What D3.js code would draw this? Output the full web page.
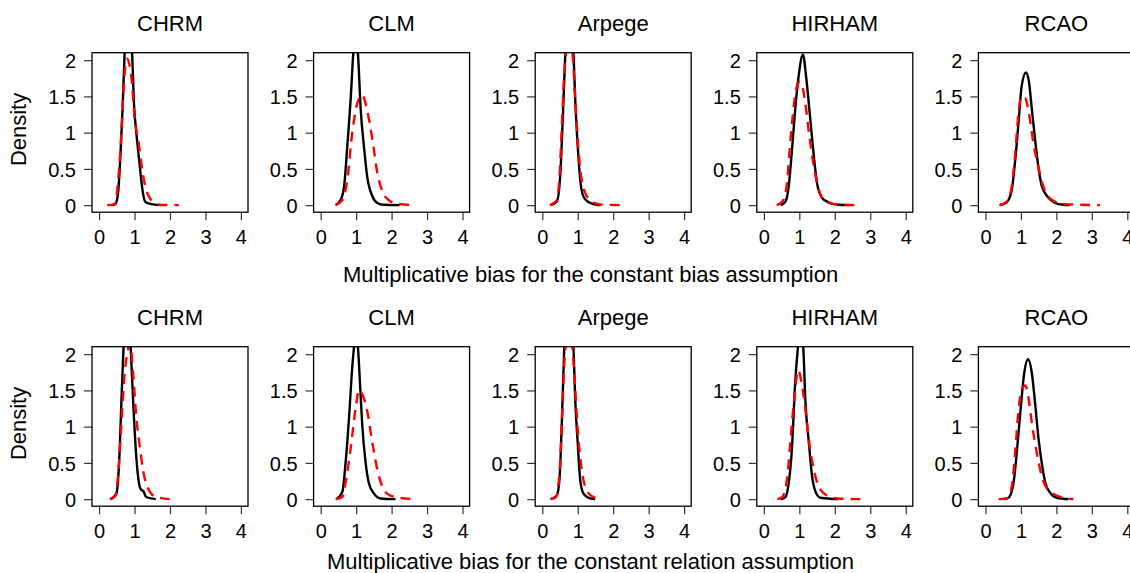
<!DOCTYPE html>
<html><head><meta charset="utf-8">
<script src="https://cdn.jsdelivr.net/npm/d3@7"></script>
<style>
body{margin:0;background:#fff}
svg{display:block}
text{font-family:"Liberation Sans",Arial,Helvetica,sans-serif;fill:#000}
</style>
</head><body>
<svg id="c" width="1130" height="573"></svg>
<script>
// ---------- data ----------
const models = ["CHRM", "CLM", "Arpege", "HIRHAM", "RCAO"];
const xTicks = [0, 1, 2, 3, 4];
const yTicks = [0, 0.5, 1, 1.5, 2];
const yTickLabels = ["0", "0.5", "1", "1.5", "2"];
const rowTitles = ["Multiplicative bias for the constant bias assumption",
                   "Multiplicative bias for the constant relation assumption"];
const yTitle = "Density";

// constant bias assumption – solid black curves, one per model
const biasSolid = [
  [[0.35,0],[0.45,0.01],[0.5,0.06],[0.54,0.19],[0.6,0.67],[0.66,1.31],[0.72,2.1],[0.77,2.5],[0.82,2.6],[0.87,2.5],[0.93,2.1],[0.99,1.35],[1.05,1.0],[1.15,0.53],[1.21,0.26],[1.3,0.05],[1.4,0.025],[1.52,0.01],[1.74,0]],
  [[0.42,0],[0.56,0.07],[0.66,0.26],[0.75,0.81],[0.85,1.5],[0.92,2.1],[0.98,2.4],[1.05,2.1],[1.13,1.31],[1.22,0.81],[1.31,0.4],[1.46,0.12],[1.6,0.03],[1.78,0.005],[2.23,0]],
  [[0.23,0],[0.41,0.05],[0.51,0.44],[0.58,1.22],[0.65,2.1],[0.71,2.6],[0.77,2.75],[0.83,2.6],[0.88,2.1],[0.93,1.45],[1.0,0.81],[1.07,0.35],[1.16,0.12],[1.31,0.04],[1.54,0.005],[1.65,0]],
  [[0.47,0],[0.61,0.05],[0.7,0.26],[0.8,0.81],[0.89,1.36],[0.99,1.82],[1.1,2.08],[1.2,1.73],[1.31,1.18],[1.41,0.67],[1.5,0.3],[1.64,0.1],[1.78,0.05],[1.97,0.015],[2.35,0]],
  [[0.41,0],[0.6,0.04],[0.74,0.21],[0.84,0.63],[0.93,1.13],[1.02,1.64],[1.14,1.83],[1.22,1.72],[1.31,1.31],[1.4,0.9],[1.49,0.53],[1.59,0.26],[1.73,0.13],[1.87,0.06],[2.06,0.015],[2.38,0]]
];
// constant bias assumption – dashed red curves
const biasDashed = [
  [[0.23,0],[0.44,0.01],[0.54,0.35],[0.63,1.0],[0.69,1.6],[0.75,1.95],[0.8,2.02],[0.85,1.95],[0.91,1.77],[1.0,1.22],[1.13,0.81],[1.19,0.58],[1.3,0.26],[1.43,0.1],[1.62,0.02],[1.76,0.003],[2.25,0]],
  [[0.42,0],[0.61,0.07],[0.75,0.35],[0.89,1.0],[1.03,1.4],[1.17,1.52],[1.31,1.31],[1.46,0.9],[1.6,0.44],[1.74,0.19],[1.92,0.07],[2.16,0.02],[2.68,0]],
  [[0.21,0],[0.41,0.07],[0.48,0.35],[0.55,1.08],[0.62,1.82],[0.68,2.15],[0.76,2.3],[0.84,2.15],[0.93,1.45],[1.0,0.9],[1.07,0.49],[1.21,0.17],[1.4,0.05],[1.63,0.01],[2.24,0]],
  [[0.36,0],[0.52,0.05],[0.64,0.26],[0.75,0.9],[0.85,1.4],[0.96,1.68],[1.01,1.7],[1.06,1.68],[1.17,1.4],[1.27,1.0],[1.41,0.53],[1.55,0.21],[1.69,0.07],[1.97,0.015],[2.63,0]],
  [[0.39,0],[0.6,0.05],[0.74,0.26],[0.84,0.72],[0.93,1.27],[1.02,1.5],[1.12,1.48],[1.21,1.31],[1.35,0.86],[1.49,0.53],[1.63,0.26],[1.77,0.12],[1.96,0.05],[2.2,0.015],[3.23,0]]
];
// constant relation assumption – solid black curves
const relationSolid = [
  [[0.33,0],[0.49,0.08],[0.54,0.3],[0.58,0.67],[0.63,1.36],[0.69,2.1],[0.74,2.6],[0.79,2.75],[0.84,2.6],[0.89,2.1],[0.96,1.36],[1.03,0.72],[1.1,0.31],[1.16,0.15],[1.26,0.1],[1.33,0.03],[1.6,0]],
  [[0.45,0],[0.61,0.1],[0.7,0.49],[0.8,1.13],[0.89,1.82],[0.94,2.1],[0.995,2.35],[1.05,2.1],[1.11,1.59],[1.17,1.04],[1.27,0.49],[1.36,0.22],[1.5,0.08],[1.69,0.01],[2.11,0]],
  [[0.23,0],[0.41,0.05],[0.49,0.31],[0.55,1.04],[0.62,2.1],[0.69,2.7],[0.75,2.85],[0.81,2.7],[0.88,2.1],[0.93,1.36],[1.0,0.77],[1.07,0.26],[1.16,0.08],[1.35,0.01],[1.49,0]],
  [[0.47,0],[0.61,0.03],[0.7,0.22],[0.8,0.77],[0.87,1.5],[0.96,2.1],[1.03,2.4],[1.11,2.1],[1.17,1.36],[1.27,0.77],[1.36,0.31],[1.46,0.1],[1.6,0.02],[2.11,0]],
  [[0.51,0],[0.65,0.02],[0.79,0.22],[0.88,0.63],[0.98,1.18],[1.09,1.73],[1.2,1.93],[1.31,1.73],[1.4,1.32],[1.49,0.86],[1.59,0.49],[1.68,0.24],[1.82,0.09],[2.01,0.02],[2.34,0]]
];
// constant relation assumption – dashed red curves
const relationDashed = [
  [[0.3,0],[0.47,0.05],[0.56,0.49],[0.63,1.04],[0.72,1.73],[0.82,2.07],[0.86,2.15],[0.9,2.07],[0.96,1.73],[1.05,1.13],[1.15,0.72],[1.24,0.4],[1.38,0.15],[1.57,0.04],[1.99,0]],
  [[0.42,0],[0.61,0.03],[0.7,0.22],[0.85,0.72],[0.99,1.27],[1.08,1.5],[1.17,1.45],[1.31,1.22],[1.46,0.77],[1.6,0.4],[1.74,0.17],[1.92,0.06],[2.21,0.02],[2.68,0]],
  [[0.24,0],[0.39,0.03],[0.49,0.4],[0.55,1.04],[0.62,1.86],[0.68,2.2],[0.76,2.35],[0.85,2.1],[0.93,1.5],[1.0,0.95],[1.09,0.49],[1.21,0.17],[1.4,0.04],[1.68,0]],
  [[0.38,0],[0.52,0.03],[0.66,0.31],[0.75,0.81],[0.86,1.41],[0.97,1.78],[1.05,1.64],[1.15,1.32],[1.27,0.81],[1.41,0.4],[1.55,0.17],[1.78,0.05],[2.07,0.01],[2.72,0]],
  [[0.37,0],[0.6,0.01],[0.74,0.17],[0.84,0.67],[0.93,1.22],[1.02,1.5],[1.12,1.57],[1.21,1.41],[1.31,1.04],[1.45,0.63],[1.59,0.31],[1.73,0.15],[1.92,0.07],[2.2,0.02],[2.48,0]]
];

// ---------- layout ----------
const svg = d3.select("#c");
const panelW = 156, panelH = 159.5;
const panelLeft0 = 92, panelStep = 221.6;
const rowTop = [52.7, 346.7];
const rowSolid = [biasSolid, relationSolid];
const rowDashed = [biasDashed, relationDashed];
const labelY = [281.5, 569];

const x = d3.scaleLinear().domain([-0.2, 4.2]).range([0, panelW]);
const y = d3.scaleLinear().domain([-0.097, 2.103]).range([panelH, 0]);
const line = d3.line().x(d => x(d[0])).y(d => y(d[1])).curve(d3.curveMonotoneX);

const defs = svg.append("defs");
defs.append("clipPath").attr("id", "clipBox")
  .append("rect").attr("x", 0).attr("y", 0).attr("width", panelW).attr("height", panelH);

rowTop.forEach((top, r) => {
  models.forEach((m, i) => {
    const left = panelLeft0 + i * panelStep;
    const g = svg.append("g").attr("transform", `translate(${left},${top})`);

    // curves
    const plot = g.append("g").attr("clip-path", "url(#clipBox)");
    plot.append("path").datum(rowSolid[r][i]).attr("d", line)
      .attr("fill", "none").attr("stroke", "#000").attr("stroke-width", 2.4)
      .attr("stroke-linejoin", "round");
    plot.append("path").datum(rowDashed[r][i]).attr("d", line)
      .attr("fill", "none").attr("stroke", "#ff0000").attr("stroke-width", 2.4)
      .attr("stroke-dasharray", "10,7");

    // axes
    const xa = g.append("g").attr("transform", `translate(0,${panelH})`)
      .call(d3.axisBottom(x).tickValues(xTicks).tickSize(8).tickPadding(4).tickFormat(d3.format("d")));
    const ya = g.append("g")
      .call(d3.axisLeft(y).tickValues(yTicks).tickSize(8).tickPadding(6).tickFormat((d, k) => yTickLabels[k]));
    [xa, ya].forEach(a => {
      a.select(".domain").remove();
      a.selectAll(".tick line").attr("stroke", "#333").attr("stroke-width", 1.2);
      a.selectAll(".tick text").style("font-family", '"Liberation Sans",Arial,sans-serif')
        .style("font-size", "20px").attr("fill", "#000");
    });
    xa.selectAll(".tick text").attr("dy", null).attr("y", 31.5).attr("dominant-baseline", "auto");
    ya.selectAll(".tick text").attr("x", -16).attr("dy", "0.36em");

    // box
    g.append("rect").attr("x", 0).attr("y", 0).attr("width", panelW).attr("height", panelH)
      .attr("fill", "none").attr("stroke", "#000").attr("stroke-width", 1.3);

    // title
    g.append("text").attr("x", panelW / 2).attr("y", -21.5).attr("text-anchor", "middle")
      .style("font-size", "22px").text(m);
  });

  // y-axis title
  svg.append("text")
    .attr("transform", `translate(25.5,${top + panelH / 2 - 3}) rotate(-90)`)
    .attr("text-anchor", "middle").style("font-size", "22px").text(yTitle);

  // x-axis title
  svg.append("text").attr("x", 590.5).attr("y", labelY[r]).attr("text-anchor", "middle")
    .style("font-size", "22px").text(rowTitles[r]);
});
</script>
</body></html>
